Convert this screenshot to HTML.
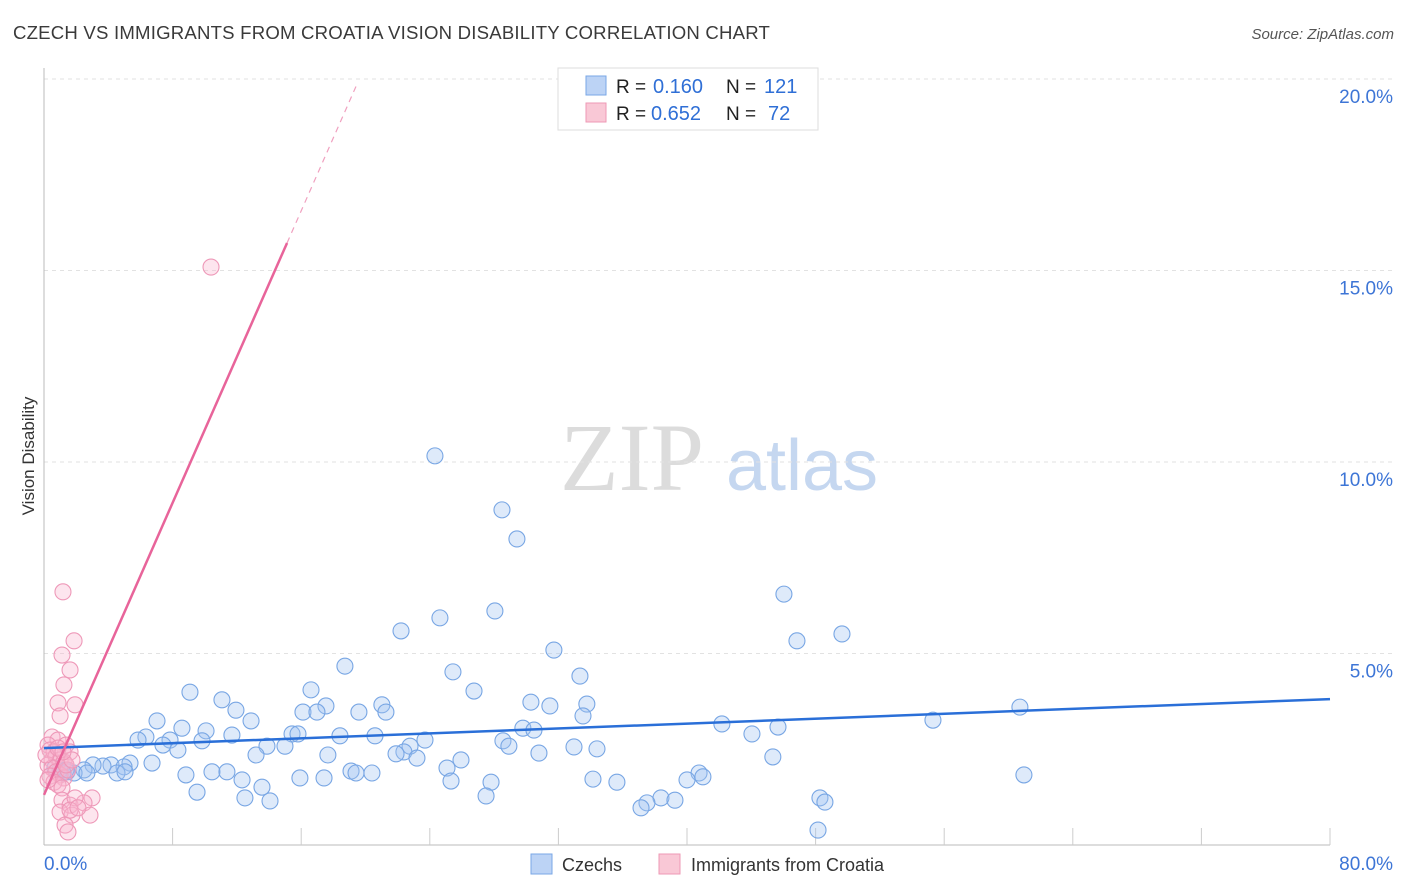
<!DOCTYPE html>
<html><head><meta charset="utf-8"><style>
body{margin:0;background:#fff;font-family:"Liberation Sans",sans-serif;}
svg{display:block}
</style></head><body>
<svg id="chart" width="1406" height="892" xmlns="http://www.w3.org/2000/svg">
<text x="13" y="39" font-size="18.6" fill="#3a3a3a" letter-spacing="0.2" font-family="Liberation Sans,sans-serif">CZECH VS IMMIGRANTS FROM CROATIA VISION DISABILITY CORRELATION CHART</text>
<text x="1394" y="39" font-size="15" fill="#555" text-anchor="end" font-style="italic">Source: ZipAtlas.com</text>
<text transform="translate(34,456) rotate(-90)" font-size="17" fill="#333" text-anchor="middle">Vision Disability</text>
<g>
<text x="632" y="490" font-size="96" fill="#dcdcdc" font-family="Liberation Serif,serif" text-anchor="middle">ZIP</text>
<text x="802" y="490" font-size="72" fill="#c5d7f0" text-anchor="middle">atlas</text>
</g>
<g id="grid"></g>
<g id="axes"></g>
<g id="series"></g>
<g>
<rect x="558" y="68" width="260" height="62" fill="#fff" stroke="#ddd"/>
<rect x="586" y="76" width="20" height="19" fill="#bcd3f5" stroke="#7aa7e6"/>
<text x="616" y="93" font-size="19" fill="#222">R =</text>
<text x="653" y="93" font-size="20" fill="#2f6fd6">0.160</text>
<text x="726" y="93" font-size="19" fill="#222">N =</text>
<text x="764" y="93" font-size="20" fill="#2f6fd6">121</text>
<rect x="586" y="103" width="20" height="19" fill="#f9c8d6" stroke="#ee99b5"/>
<text x="616" y="120" font-size="19" fill="#222">R =</text>
<text x="651" y="120" font-size="20" fill="#2f6fd6">0.652</text>
<text x="726" y="120" font-size="19" fill="#222">N =</text>
<text x="768" y="120" font-size="20" fill="#2f6fd6">72</text>
</g>
<g>
<rect x="531" y="854" width="21" height="20" fill="#bcd3f5" stroke="#7aa7e6"/>
<text x="562" y="871" font-size="18" fill="#333">Czechs</text>
<rect x="659" y="854" width="21" height="20" fill="#f9c8d6" stroke="#ee99b5"/>
<text x="691" y="871" font-size="18" fill="#333">Immigrants from Croatia</text>
</g>
</svg>
<script>
const blueX=[24.32,28.49,29.42,46.03,46.84,49.64,28.05,24.63,22.21,31.72,33.34,18.72,25.44,26.75,16.61,9.08,11.07,30.29,33.77,31.47,21.02,17.54,16.11,16.98,19.59,21.27,11.94,33.53,12.88,7.03,8.58,60.71,55.30,42.17,45.66,29.79,30.48,15.43,15.80,10.08,11.69,6.34,5.85,7.84,7.40,8.33,9.83,13.87,14.99,18.41,20.59,23.70,22.77,22.39,21.90,28.55,28.92,30.79,32.97,34.40,44.04,45.34,13.19,17.66,23.20,25.94,25.07,6.72,4.17,5.35,3.67,4.98,3.05,2.49,1.87,4.54,5.04,1.43,2.67,8.83,10.45,11.38,12.32,15.92,17.42,19.10,20.40,19.41,40.75,40.99,40.00,60.96,34.15,35.64,27.81,25.32,13.56,9.52,27.50,12.50,14.06,38.38,39.25,37.51,37.14,48.27,48.58,48.15,1.00,1.37,1.18,0.68];
const blueY=[10.16,8.75,7.99,6.55,5.33,5.51,6.11,5.93,5.59,5.09,4.41,4.67,4.52,4.02,4.05,3.99,3.79,3.73,3.68,3.63,3.66,3.63,3.47,3.47,3.47,3.47,3.52,3.37,3.24,3.24,3.05,3.60,3.26,3.16,3.08,3.05,3.00,2.90,2.90,2.98,2.87,2.82,2.74,2.74,2.61,2.48,2.72,2.58,2.58,2.85,2.85,2.74,2.58,2.43,2.38,2.72,2.58,2.40,2.56,2.51,2.90,2.30,2.35,2.35,2.27,2.22,2.01,2.14,2.09,2.14,2.06,2.04,2.09,1.96,1.88,1.88,1.91,1.91,1.88,1.83,1.91,1.91,1.70,1.75,1.75,1.93,1.88,1.88,1.88,1.78,1.70,1.83,1.72,1.64,1.64,1.67,1.51,1.38,1.28,1.23,1.15,1.23,1.17,1.10,0.97,1.23,1.12,0.39,1.96,1.96,1.88,2.01];
const pinkX=[10.39,1.18,1.87,1.62,1.12,1.24,0.87,1.93,1.00,0.50,0.87,1.37,1.62,0.50,0.25,0.37,0.62,0.75,1.00,1.24,0.25,0.50,0.75,1.00,1.24,1.49,0.37,0.62,0.87,1.12,1.37,0.25,1.74,0.12,0.87,1.18,1.12,1.62,2.99,2.49,1.00,1.74,2.86,1.31,1.49,1.93,1.62,2.11];
const pinkY=[15.09,6.61,5.33,4.57,4.96,4.18,3.71,3.66,3.37,2.82,2.74,2.61,2.43,2.22,2.61,2.48,2.43,2.32,2.22,2.17,2.09,2.01,1.91,1.83,1.75,1.96,1.80,1.64,1.57,1.49,2.09,1.70,2.22,2.35,2.53,2.43,1.17,1.04,1.23,1.10,0.86,0.78,0.78,0.52,0.34,1.23,0.91,0.97];
const xTicks=[0,80];
const yTicks=[5,10,15,20];
const blueTrend=[2.53,3.81];
const pinkTrend=[1.31,0.953];
const NS="http://www.w3.org/2000/svg";
const X=v=>44+v*16.075, Y=v=>845-v*38.3;
function mk(t,a,p){const e=document.createElementNS(NS,t);for(const k in a)e.setAttribute(k,a[k]);p.appendChild(e);return e;}
const grid=document.getElementById('grid'),axes=document.getElementById('axes'),ser=document.getElementById('series');
yTicks.forEach(v=>{
 const l=mk('line',{x1:44,x2:1394,y1:Y(v),y2:Y(v),stroke:'#e2e2e2','stroke-dasharray':'4,4'},grid);
 
 
 const t=mk('text',{x:1393,y:Y(v)+24,'font-size':19,fill:'#3d75d6','text-anchor':'end'},axes);
 t.textContent=v.toFixed(1)+'%';
 
 
});
const ax=mk('line',{x1:44,x2:44,y1:68,y2:845,stroke:'#bbb'},axes);


const bx=mk('line',{x1:44,x2:1330,y1:845,y2:845,stroke:'#bbb'},axes);


for(let i=1;i<=10;i++){
 const tk=mk('line',{x1:X(i*8),x2:X(i*8),y1:828,y2:845,stroke:'#ccc'},axes);
 
 
}
xTicks.forEach((v,i)=>{
 const t=mk('text',{x:i?1393:44,y:870,'font-size':19,fill:'#3d75d6','text-anchor':i?'end':'start'},axes);
 t.textContent=v.toFixed(1)+'%';
 
 
});
blueX.forEach((x,i)=>{
 const c=mk('circle',{cx:X(x),cy:Y(blueY[i]),r:8,fill:'rgba(160,195,240,0.35)',stroke:'#78a6e4','stroke-width':1.1},ser);
 
 
});
pinkX.forEach((x,i)=>{
 const c=mk('circle',{cx:X(x),cy:Y(pinkY[i]),r:8,fill:'rgba(248,180,205,0.35)',stroke:'#ee98b8','stroke-width':1.1},ser);
 
 
});
const bl=mk('line',{x1:X(0),y1:Y(blueTrend[0]),x2:X(80),y2:Y(blueTrend[1]),stroke:'#2a6fd8','stroke-width':2.5},ser);


const pe=15.12,pd=19.5;
const pl=mk('line',{x1:X(0),y1:Y(pinkTrend[0]),x2:X(pe),y2:Y(pinkTrend[0]+pinkTrend[1]*pe),stroke:'#e8649a','stroke-width':2.5},ser);


const pdl=mk('line',{x1:X(pe),y1:Y(pinkTrend[0]+pinkTrend[1]*pe),x2:X(pd),y2:Y(pinkTrend[0]+pinkTrend[1]*pd),stroke:'#f0a0bf','stroke-width':1.2,'stroke-dasharray':'6,5'},ser);


</script>
</body></html>
